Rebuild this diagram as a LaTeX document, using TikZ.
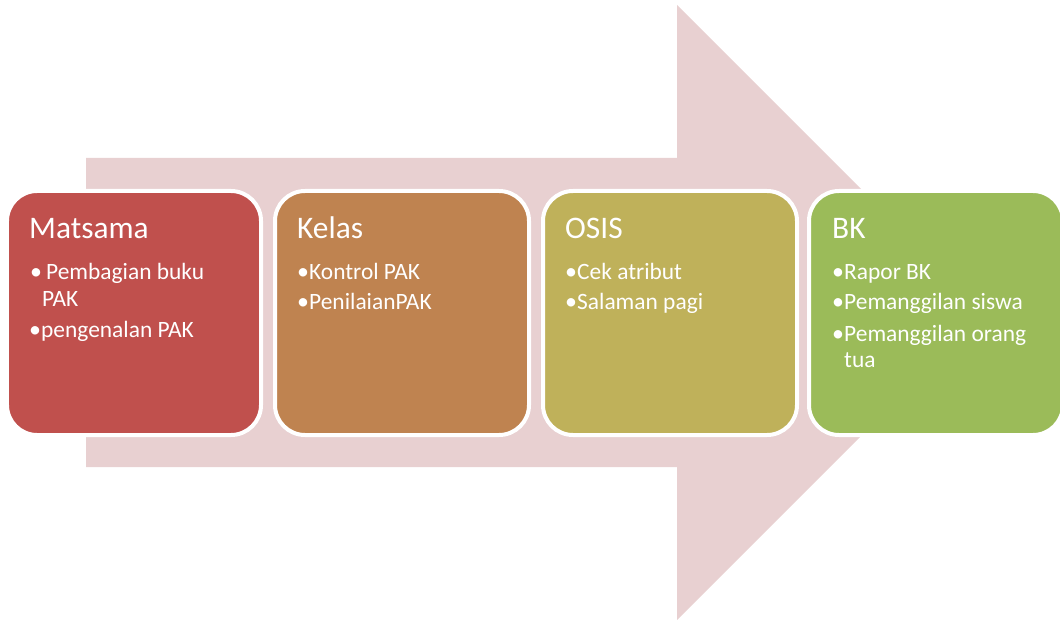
\documentclass[tikz,border=0pt]{standalone}
\usepackage{fontspec}
\setmainfont{Carlito}
\definecolor{arrowc}{HTML}{E8D0D1}
\definecolor{cA}{HTML}{C0504D}
\definecolor{cB}{HTML}{BF8350}
\definecolor{cC}{HTML}{BFB15A}
\definecolor{cD}{HTML}{9BBB59}
\tikzset{
  box/.style={draw=white, line width=4bp, rounded corners=30bp, minimum width=254bp, minimum height=244bp, inner sep=0pt},
  ttl/.style={anchor=base west, text=white, inner sep=0pt, font=\fontsize{31.5}{36}\selectfont},
  itm/.style={anchor=base west, text=white, inner sep=0pt, font=\fontsize{23.5}{28}\selectfont},
  bul/.style={anchor=base west, text=white, inner sep=0pt, font=\fontsize{24}{28}\selectfont},
}
\begin{document}
\begin{tikzpicture}[x=1bp,y=-1bp]
\useasboundingbox (0,0) rectangle (1060,620);
\fill[arrowc] (86,158) -- (677,158) -- (677,5) -- (984.5,312.5) -- (677,620) -- (677,467) -- (86,467) -- cycle;
\node[box, fill=cA] (b1) at (134,313) {};
\node[box, fill=cB] (b2) at (402,313) {};
\node[box, fill=cC] (b3) at (670,313) {};
\node[box, fill=cD] (b4) at (936,313) {};
% box 1
\node[ttl] (t1) at (29,239) {Matsama};
\node[bul] (p1a) at (30,280) {\textbullet};
\node[itm] (i1a) at (46,280) {Pembagian buku};
\node[itm] (i1b) at (42,307) {PAK};
\node[bul] (p1c) at (29,337) {\textbullet};
\node[itm] (i1c) at (41,337) {pengenalan PAK};
% box 2
\node[ttl] (t2) at (297,239) {Kelas};
\node[bul] (p2a) at (297,280) {\textbullet};
\node[itm] (i2a) at (309,280) {Kontrol PAK};
\node[bul] (p2b) at (297,310) {\textbullet};
\node[itm] (i2b) at (309,310) {PenilaianPAK};
% box 3
\node[ttl] (t3) at (565,239) {OSIS};
\node[bul] (p3a) at (565,280) {\textbullet};
\node[itm] (i3a) at (577,280) {Cek atribut};
\node[bul] (p3b) at (565,310) {\textbullet};
\node[itm] (i3b) at (577,310) {Salaman pagi};
% box 4
\node[ttl] (t4) at (832,239) {BK};
\node[bul] (p4a) at (832,280) {\textbullet};
\node[itm] (i4a) at (844,280) {Rapor BK};
\node[bul] (p4b) at (832,310) {\textbullet};
\node[itm] (i4b) at (844,310) {Pemanggilan siswa};
\node[bul] (p4c) at (832,341) {\textbullet};
\node[itm] (i4c) at (844,341) {Pemanggilan orang};
\node[itm] (i4d) at (844,367) {tua};
\end{tikzpicture}
\end{document}
